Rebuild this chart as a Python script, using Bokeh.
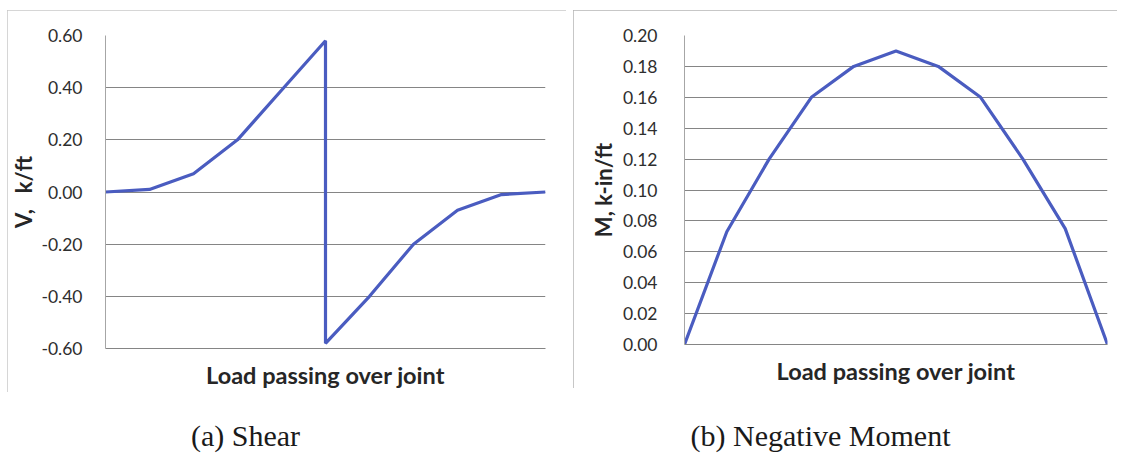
from bokeh.plotting import figure
from bokeh.layouts import column, row
from bokeh.models import Range1d, FixedTicker, NumeralTickFormatter, Spacer
from bokeh.core.properties import value
from bokeh.embed import file_html
from bokeh.resources import INLINE

# ---- data ----
shear_x = [0, 1, 2, 3, 4, 5, 5, 6, 7, 8, 9, 10]
shear_v = [0.00, 0.01, 0.07, 0.20, 0.39, 0.58, -0.58, -0.40, -0.20, -0.07, -0.01, 0.00]
shear_ticks = [-0.6, -0.4, -0.2, 0.0, 0.2, 0.4, 0.6]

moment_x = [0, 1, 2, 3, 4, 5, 6, 7, 8, 9, 10]
moment_m = [0.00, 0.073, 0.12, 0.16, 0.18, 0.19, 0.18, 0.16, 0.12, 0.075, 0.00]
moment_ticks = [0.00, 0.02, 0.04, 0.06, 0.08, 0.10, 0.12, 0.14, 0.16, 0.18, 0.20]

x_title = "Load passing over joint"
shear_title = "V,\u00a0\u00a0\u00a0k/ft"
moment_title = "M, k-in/ft"
captions = ["(a) Shear", "(b) Negative Moment"]
caption_x = [245, 820]

LINE = "#4a5cc0"
GRID = "#858585"
FONT = "Lato"


def style(p, ticks, ylabel, lab_standoff, title_standoff):
    p.outline_line_color = None
    p.xgrid.visible = False
    p.ygrid.ticker = FixedTicker(ticks=ticks)
    p.ygrid.grid_line_color = GRID
    p.ygrid.grid_line_width = 1.2
    p.yaxis.ticker = FixedTicker(ticks=ticks)
    p.yaxis.formatter = NumeralTickFormatter(format="0.00")
    p.yaxis.major_tick_line_color = None
    p.yaxis.minor_tick_line_color = None
    p.yaxis.axis_line_color = "#a6a6a6"
    p.yaxis.major_label_text_font = FONT
    p.yaxis.major_label_text_font_size = "17.5px"
    p.yaxis.major_label_text_color = "#2e2e2e"
    p.yaxis.major_label_standoff = lab_standoff
    p.yaxis.axis_label = ylabel
    p.yaxis.axis_label_text_font = FONT
    p.yaxis.axis_label_text_font_style = "bold"
    p.yaxis.axis_label_text_font_size = "22px"
    p.yaxis.axis_label_text_color = "#262626"
    p.yaxis.axis_label_standoff = title_standoff
    p.xaxis.ticker = FixedTicker(ticks=[])
    p.xaxis.major_tick_line_color = None
    p.xaxis.minor_tick_line_color = None
    p.xaxis.axis_line_color = GRID
    p.xaxis.axis_line_width = 1.2
    p.xaxis.axis_label = x_title
    p.xaxis.axis_label_text_font = FONT
    p.xaxis.axis_label_text_font_style = "bold"
    p.xaxis.axis_label_text_font_size = "23.5px"
    p.xaxis.axis_label_text_color = "#262626"
    p.xaxis.axis_label_standoff = 12


p1 = figure(width=559, height=382, x_range=Range1d(0, 10), y_range=Range1d(-0.6, 0.6),
            output_backend="svg", toolbar_location=None,
            min_border_left=92, min_border_right=21, min_border_top=23, min_border_bottom=44)
p1.line(shear_x, shear_v, line_color=LINE, line_width=3.2)
style(p1, shear_ticks, shear_title, 17, 1)
p1.styles = {"outline": "2px solid #c8c8c8", "outline-offset": "-2px"}

p2 = figure(width=544, height=378, x_range=Range1d(0, 10), y_range=Range1d(0, 0.2),
            output_backend="svg", toolbar_location=None,
            min_border_left=111, min_border_right=10, min_border_top=25, min_border_bottom=40)
p2.line(moment_x, moment_m, line_color=LINE, line_width=3.2)
style(p2, moment_ticks, moment_title, 21, 3)
p2.styles = {"outline": "2px solid #b4b4b4", "outline-offset": "-2px"}

cap = figure(width=1131, height=63, x_range=Range1d(0, 1131), y_range=Range1d(0, 63),
             output_backend="svg", toolbar_location=None,
             x_axis_location=None, y_axis_location=None,
             min_border=0, min_border_left=0, min_border_right=0, min_border_top=0, min_border_bottom=0)
cap.grid.visible = False
cap.outline_line_color = None
cap.text(x=caption_x, y=[20, 20], text=captions, text_align="center", text_baseline="alphabetic",
         text_font=value("Liberation Serif"), text_font_size="30px", text_color="#1a1a1a")

layout = column(Spacer(height=10),
                row(Spacer(width=7), p1, Spacer(width=7), p2),
                cap)

open("out.html", "w").write(file_html(layout, INLINE))
